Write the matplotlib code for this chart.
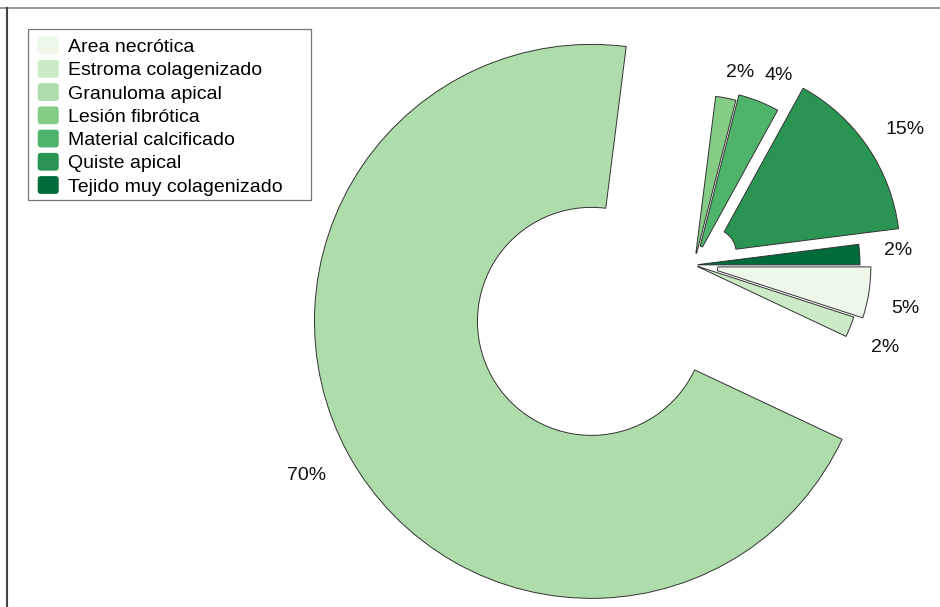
import matplotlib
matplotlib.use('Agg')
import matplotlib.pyplot as plt
import numpy as np
from matplotlib.patches import FancyBboxPatch, Patch, Rectangle
from matplotlib.legend_handler import HandlerPatch
from matplotlib.lines import Line2D

# ---- data ----
categories = ["Area necrótica", "Estroma colagenizado", "Granuloma apical",
              "Lesión fibrótica", "Material calcificado", "Quiste apical",
              "Tejido muy colagenizado"]
values = [5, 2, 70, 2, 4, 15, 2]
pct_labels = ["5%", "2%", "70%", "2%", "4%", "15%", "2%"]

# ---- style ----
colors = ["#edf8ea", "#cdeac6", "#aedcaa", "#85cc86", "#4eb46b", "#2a9553", "#006b3b"]
R = 165.0                                   # pixels per pie unit
explode_px = [12, 2, 117, 6, 10, 23, 2]
inner_px = [12, 2, 114, 6, 10, 23, 2]
outer_px = [165, 166, 277, 164, 166, 187, 164]
label_dist_px = [203, 205, 323, 194, 199, 229, 203]
label_dangle = [-2.3, -1.2, -0.7, -2.6, -2.3, -1.1, 1.1]
label_drop_px = 2
cx, cy = 694, 265                           # pie centre (px from left / top)
W, H = 940, 607

plt.rcParams['font.family'] = ['Liberation Sans', 'DejaVu Sans']

fig = plt.figure(figsize=(W / 100, H / 100), dpi=100)
ax = fig.add_axes([0, 0, 1, 1])

wedges, _ = ax.pie(values, explode=[e / R for e in explode_px], startangle=0,
                   counterclock=False, colors=colors, radius=1,
                   wedgeprops=dict(edgecolor='#333333', linewidth=0.7))
for w, ro, ri in zip(wedges, outer_px, inner_px):
    w.set_radius(ro / R)
    w.set_width((ro - ri) / R)

for w, lab, d, da in zip(wedges, pct_labels, label_dist_px, label_dangle):
    mid = np.deg2rad((w.theta1 + w.theta2) / 2 + da)
    r = d / R
    x0, y0 = w.center
    ax.text(x0 + r * np.cos(mid), y0 + r * np.sin(mid) - label_drop_px / R, lab,
            ha='center', va='center', fontsize=14, color='#111111')

ax.set_xlim(-cx / R, (W - cx) / R)
ax.set_ylim(-(H - cy) / R, cy / R)
ax.set_aspect('auto')
ax.axis('off')


class RoundHandler(HandlerPatch):
    def create_artists(self, legend, orig_handle, xdescent, ydescent,
                       width, height, fontsize, trans):
        p = FancyBboxPatch((-xdescent, -ydescent), width, height,
                           boxstyle='round,pad=0,rounding_size=%f' % (0.18 * height),
                           facecolor=orig_handle.get_facecolor(),
                           edgecolor='none', transform=trans)
        return [p]


# legend box
fig.add_artist(Rectangle((28 / W, 1 - 200 / H), (311 - 28) / W, (200 - 29) / H,
                         transform=fig.transFigure, facecolor='white',
                         edgecolor='#777777', linewidth=0.9, zorder=4))

handles = [Patch(facecolor=c, edgecolor='none') for c in colors]
leg = fig.legend(handles, categories, loc='upper left',
                 bbox_to_anchor=(28 / W, 1 - 27 / H), borderaxespad=0,
                 fontsize=14, handlelength=1.08, handleheight=1.03,
                 handletextpad=0.5, labelspacing=0.19, borderpad=0.5,
                 frameon=False, handler_map={Patch: RoundHandler()})
leg.set_zorder(5)

# outer frame (top and left edges visible)
fig.add_artist(Line2D([0, 1], [1 - 8 / H] * 2, transform=fig.transFigure,
                      color='#999999', lw=1.5))
fig.add_artist(Line2D([6.5 / W] * 2, [0, 1 - 8 / H], transform=fig.transFigure,
                      color='#444444', lw=1.5))

fig.savefig('out.png', dpi=100)
